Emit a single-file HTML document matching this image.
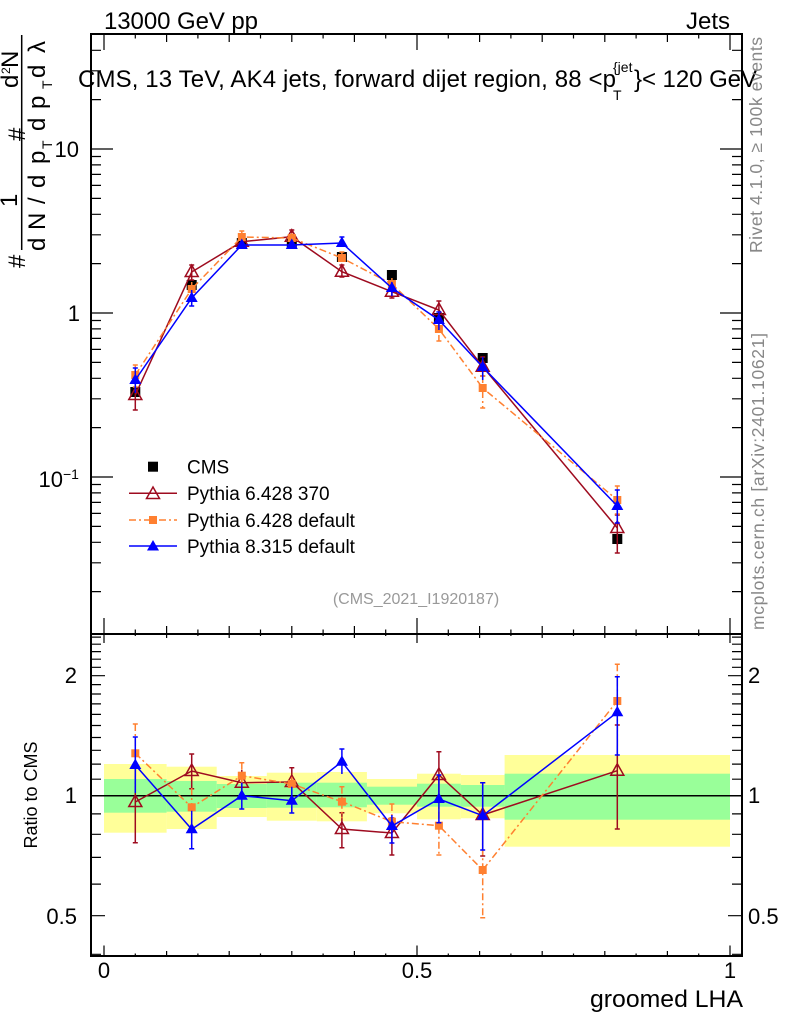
<!DOCTYPE html>
<html>
<head>
<meta charset="utf-8">
<style>
html,body{margin:0;padding:0;background:#fff;}
svg{display:block;}
text{font-family:"Liberation Sans",Arial,sans-serif;}
</style>
</head>
<body>
<svg width="786" height="1024" viewBox="0 0 786 1024" xmlns="http://www.w3.org/2000/svg">
<defs>
  <path id="otri" d="M0,-7 L6.5,4.5 L-6.5,4.5 Z" fill="none" stroke="#9e0b1f" stroke-width="1.5"/>
  <path id="ftri" d="M0,-6.5 L6,4 L-6,4 Z" fill="#0000ff"/>
  <rect id="osq" x="-4" y="-4" width="8" height="8" fill="#ff8030"/>
  <rect id="bsq" x="-5" y="-5" width="10" height="10" fill="#000"/>
</defs>
<rect width="786" height="1024" fill="#fff"/>

<!-- ratio bands -->
<g>
  <rect x="104" y="764" width="62.6" height="68.7" fill="#ffff99"/>
  <rect x="166.6" y="766.7" width="50.1" height="62.3" fill="#ffff99"/>
  <rect x="216.7" y="776" width="50.1" height="41" fill="#ffff99"/>
  <rect x="266.8" y="772.7" width="50" height="48" fill="#ffff99"/>
  <rect x="316.8" y="772" width="50.1" height="49.3" fill="#ffff99"/>
  <rect x="366.9" y="779" width="50.1" height="34.3" fill="#ffff99"/>
  <rect x="417" y="773.7" width="43.8" height="45.6" fill="#ffff99"/>
  <rect x="460.8" y="775" width="43.8" height="43.3" fill="#ffff99"/>
  <rect x="504.6" y="755" width="225.4" height="91.7" fill="#ffff99"/>

  <rect x="104" y="779" width="62.6" height="33.7" fill="#99ff99"/>
  <rect x="166.6" y="781" width="50.1" height="30.7" fill="#99ff99"/>
  <rect x="216.7" y="784" width="50.1" height="24" fill="#99ff99"/>
  <rect x="266.8" y="782.7" width="50" height="25" fill="#99ff99"/>
  <rect x="316.8" y="782.7" width="50.1" height="24.6" fill="#99ff99"/>
  <rect x="366.9" y="786.7" width="50.1" height="18" fill="#99ff99"/>
  <rect x="417" y="783.7" width="43.8" height="23" fill="#99ff99"/>
  <rect x="460.8" y="785" width="43.8" height="21.7" fill="#99ff99"/>
  <rect x="504.6" y="773.7" width="225.4" height="46" fill="#99ff99"/>
</g>
<line x1="91" y1="795.7" x2="742" y2="795.7" stroke="#000" stroke-width="1.5"/>

<!-- frame -->
<rect x="91" y="34" width="651" height="922" fill="none" stroke="#000" stroke-width="2"/>
<line x1="91" y1="634" x2="742" y2="634" stroke="#000" stroke-width="2"/>

<!-- ticks -->
<g stroke="#000" stroke-width="1.2" fill="none">
  <path d="M91 149h22M91 313h22M91 477h22
  M91 99.6h10M91 70.8h10M91 50.3h10
  M91 263.6h10M91 234.8h10M91 214.3h10M91 198.4h10M91 185.4h10M91 174.4h10M91 164.9h10M91 156.5h10
  M91 427.6h10M91 398.8h10M91 378.3h10M91 362.4h10M91 349.4h10M91 338.4h10M91 328.9h10M91 320.5h10
  M91 591.6h10M91 562.8h10M91 542.3h10M91 526.4h10M91 513.4h10M91 502.4h10M91 492.9h10M91 484.5h10"/>
  <path d="M742 149h-22M742 313h-22M742 477h-22
  M742 99.6h-10M742 70.8h-10M742 50.3h-10
  M742 263.6h-10M742 234.8h-10M742 214.3h-10M742 198.4h-10M742 185.4h-10M742 174.4h-10M742 164.9h-10M742 156.5h-10
  M742 427.6h-10M742 398.8h-10M742 378.3h-10M742 362.4h-10M742 349.4h-10M742 338.4h-10M742 328.9h-10M742 320.5h-10
  M742 591.6h-10M742 562.8h-10M742 542.3h-10M742 526.4h-10M742 513.4h-10M742 502.4h-10M742 492.9h-10M742 484.5h-10"/>
  <path d="M91 915.7h14M91 795.7h14M91 675.7h14
  M91 954.3h10M91 884.1h10M91 857.4h10M91 834.3h10M91 813.9h10
  M91 779.2h10M91 764.1h10M91 750.3h10M91 737.5h10M91 725.5h10M91 714.4h10M91 703.9h10M91 694h10M91 684.6h10
  M91 667.3h10M91 659.2h10M91 651.6h10M91 644.2h10M91 637.1h10"/>
  <path d="M742 915.7h-14M742 795.7h-14M742 675.7h-14
  M742 954.3h-10M742 884.1h-10M742 857.4h-10M742 834.3h-10M742 813.9h-10
  M742 779.2h-10M742 764.1h-10M742 750.3h-10M742 737.5h-10M742 725.5h-10M742 714.4h-10M742 703.9h-10M742 694h-10M742 684.6h-10
  M742 667.3h-10M742 659.2h-10M742 651.6h-10M742 644.2h-10M742 637.1h-10"/>
  <path d="M104 34v16M417 34v16M730 34v16
  M166.6 34v8M229.2 34v8M291.8 34v8M354.4 34v8M479.6 34v8M542.2 34v8M604.8 34v8M667.4 34v8
  M135.3 34v4.5M197.9 34v4.5M260.5 34v4.5M323.1 34v4.5M385.7 34v4.5M448.3 34v4.5M510.9 34v4.5M573.5 34v4.5M636.1 34v4.5M698.7 34v4.5"/>
  <path d="M104 634v-16M417 634v-16M730 634v-16
  M166.6 634v-8M229.2 634v-8M291.8 634v-8M354.4 634v-8M479.6 634v-8M542.2 634v-8M604.8 634v-8M667.4 634v-8
  M135.3 634v-4.5M197.9 634v-4.5M260.5 634v-4.5M323.1 634v-4.5M385.7 634v-4.5M448.3 634v-4.5M510.9 634v-4.5M573.5 634v-4.5M636.1 634v-4.5M698.7 634v-4.5"/>
  <path d="M104 634v9M417 634v9M730 634v9
  M166.6 634v4M229.2 634v4M291.8 634v4M354.4 634v4M479.6 634v4M542.2 634v4M604.8 634v4M667.4 634v4
  M135.3 634v2M197.9 634v2M260.5 634v2M323.1 634v2M385.7 634v2M448.3 634v2M510.9 634v2M573.5 634v2M636.1 634v2M698.7 634v2"/>
  <path d="M104 956v-10.5M417 956v-10.5M730 956v-10.5
  M166.6 956v-5M229.2 956v-5M291.8 956v-5M354.4 956v-5M479.6 956v-5M542.2 956v-5M604.8 956v-5M667.4 956v-5
  M135.3 956v-2.5M197.9 956v-2.5M260.5 956v-2.5M323.1 956v-2.5M385.7 956v-2.5M448.3 956v-2.5M510.9 956v-2.5M573.5 956v-2.5M636.1 956v-2.5M698.7 956v-2.5"/>
</g>

<!-- ============ MAIN PANEL DATA ============ -->
<g stroke="#000" stroke-width="1.5">
  <path d="M135.3 388v8M191.7 282v6M241.8 240v6M291.8 240v6M341.9 254v6M391.9 272v6M438.9 315v6M482.7 355v6M617.3 533v12"/>
</g>
<g>
  <use href="#bsq" x="135.3" y="392"/><use href="#bsq" x="191.7" y="285"/><use href="#bsq" x="241.8" y="243"/>
  <use href="#bsq" x="291.8" y="243"/><use href="#bsq" x="341.9" y="257"/><use href="#bsq" x="391.9" y="275"/>
  <use href="#bsq" x="438.9" y="318"/><use href="#bsq" x="482.7" y="358"/><use href="#bsq" x="617.3" y="539"/>
</g>
<g stroke="#9e0b1f" stroke-width="1.5" fill="none">
  <polyline points="135.3,395 191.7,272 241.8,241.7 291.8,236.7 341.9,271.7 391.9,291.7 438.9,310 482.7,366.7 617.3,528"/>
  <path d="M135.3 383v27M191.7 265v15M241.8 237v9M291.8 230v13M341.9 265v12M391.9 285v13M438.9 301v17M482.7 357v19M617.3 515v38
  M132.8 410h5M132.8 383h5M189.2 265h5M189.2 280h5M289.3 230h5M289.3 243h5M339.4 265h5M339.4 277h5M389.4 285h5M389.4 298h5M436.4 301h5M436.4 318h5M480.2 357h5M480.2 376h5M614.8 515h5M614.8 553h5"/>
</g>
<g>
  <use href="#otri" x="135.3" y="395"/><use href="#otri" x="191.7" y="272"/><use href="#otri" x="241.8" y="241.7"/>
  <use href="#otri" x="291.8" y="236.7"/><use href="#otri" x="341.9" y="271.7"/><use href="#otri" x="391.9" y="291.7"/>
  <use href="#otri" x="438.9" y="310"/><use href="#otri" x="482.7" y="366.7"/><use href="#otri" x="617.3" y="528"/>
</g>
<g stroke="#ff8030" stroke-width="1.5" fill="none" stroke-dasharray="7 3 2 3">
  <polyline points="135.3,375 191.7,289 241.8,237 291.8,238 341.9,258 391.9,284 438.9,329 482.7,388 617.3,500"/>
  <path d="M135.3 365v22M191.7 282v15M241.8 231v12M291.8 233v10M341.9 252v10M391.9 278v14M438.9 320v21M482.7 376v32M617.3 486v28"/>
</g>
<g stroke="#ff8030" stroke-width="1.5">
  <path d="M132.8 365h5M132.8 387h5M239.3 231h5M339.4 252h5M436.4 341h5M480.2 408h5M480.2 376h5M614.8 486h5M614.8 514h5"/>
</g>
<g>
  <use href="#osq" x="135.3" y="375"/><use href="#osq" x="191.7" y="289"/><use href="#osq" x="241.8" y="237"/>
  <use href="#osq" x="291.8" y="238"/><use href="#osq" x="341.9" y="258"/><use href="#osq" x="391.9" y="284"/>
  <use href="#osq" x="438.9" y="329"/><use href="#osq" x="482.7" y="388"/><use href="#osq" x="617.3" y="500"/>
</g>
<g stroke="#0000ff" stroke-width="1.5" fill="none">
  <polyline points="135.3,380 191.7,298 241.8,245 291.8,245 341.9,243 391.9,288 438.9,320 482.7,367 617.3,506"/>
  <path d="M135.3 368v25M191.7 290v16M241.8 241v8M291.8 241v8M341.9 237v10M391.9 282v14M438.9 312v18M482.7 357v23M617.3 490v33
  M132.8 368h5M189.2 306h5M339.4 237h5M436.4 312h5M614.8 490h5M614.8 523h5"/>
</g>
<g>
  <use href="#ftri" x="135.3" y="380"/><use href="#ftri" x="191.7" y="298"/><use href="#ftri" x="241.8" y="245"/>
  <use href="#ftri" x="291.8" y="245"/><use href="#ftri" x="341.9" y="243"/><use href="#ftri" x="391.9" y="288"/>
  <use href="#ftri" x="438.9" y="320"/><use href="#ftri" x="482.7" y="367"/><use href="#ftri" x="617.3" y="506"/>
</g>

<!-- ============ RATIO PANEL DATA ============ -->
<g stroke="#9e0b1f" stroke-width="1.5" fill="none">
  <polyline points="135.3,802 191.7,771 241.8,782.7 291.8,782 341.9,829 391.9,833 438.9,775 482.7,815 617.3,770.7"/>
  <path d="M135.3 762v80.7M191.7 754v34.7M241.8 770v26M291.8 767.7v20.3M341.9 812.7v35M391.9 818v37M438.9 751.7v45M482.7 782.7v73.3M617.3 725v104
  M132.8 842.7h5M189.2 754h5M189.2 788.7h5M289.3 767.7h5M339.4 812.7h5M339.4 847.7h5M389.4 818h5M389.4 855h5M436.4 751.7h5M436.4 796.7h5M480.2 782.7h5M480.2 856h5M614.8 725h5M614.8 829h5"/>
</g>
<g>
  <use href="#otri" x="135.3" y="802"/><use href="#otri" x="191.7" y="771"/><use href="#otri" x="241.8" y="782.7"/>
  <use href="#otri" x="291.8" y="782"/><use href="#otri" x="341.9" y="829"/><use href="#otri" x="391.9" y="833"/>
  <use href="#otri" x="438.9" y="775"/><use href="#otri" x="482.7" y="815"/><use href="#otri" x="617.3" y="770.7"/>
</g>
<g stroke="#ff8030" stroke-width="1.5" fill="none" stroke-dasharray="7 3 2 3">
  <polyline points="135.3,753.3 191.7,807.3 241.8,775.7 291.8,784 341.9,801.7 391.9,821.7 438.9,825.7 482.7,870 617.3,701"/>
  <path d="M135.3 724v62M191.7 788v40M241.8 762.7v24M291.8 776.7v15M341.9 786.7v31.6M391.9 804v31M438.9 796.7v58.3M482.7 833.3v84.4M617.3 664.3v82.4"/>
</g>
<g stroke="#ff8030" stroke-width="1.5">
  <path d="M132.8 724h5M239.3 762.7h5M339.4 786.7h5M389.4 804h5M436.4 855h5M480.2 917.7h5M614.8 664.3h5"/>
</g>
<g>
  <use href="#osq" x="135.3" y="753.3"/><use href="#osq" x="191.7" y="807.3"/><use href="#osq" x="241.8" y="775.7"/>
  <use href="#osq" x="291.8" y="784"/><use href="#osq" x="341.9" y="801.7"/><use href="#osq" x="391.9" y="821.7"/>
  <use href="#osq" x="438.9" y="825.7"/><use href="#osq" x="482.7" y="870"/><use href="#osq" x="617.3" y="701"/>
</g>
<g stroke="#0000ff" stroke-width="1.5" fill="none">
  <polyline points="135.3,765 191.7,829.3 241.8,795.7 291.8,800.7 341.9,761.7 391.9,826 438.9,799 482.7,815.7 617.3,712.3"/>
  <path d="M135.3 737v56M191.7 810.7v38M241.8 782.6v26.4M291.8 786.7v26.3M341.9 749v25M391.9 815v28M438.9 775v47.7M482.7 782.7v67.3M617.3 676.7v78.3
  M132.8 737h5M189.2 848.7h5M239.3 809h5M289.3 813h5M339.4 749h5M389.4 843h5M436.4 775h5M436.4 822.7h5M480.2 782.7h5M480.2 850h5M614.8 676.7h5M614.8 755h5"/>
</g>
<g>
  <use href="#ftri" x="135.3" y="765"/><use href="#ftri" x="191.7" y="829.3"/><use href="#ftri" x="241.8" y="795.7"/>
  <use href="#ftri" x="291.8" y="800.7"/><use href="#ftri" x="341.9" y="761.7"/><use href="#ftri" x="391.9" y="826"/>
  <use href="#ftri" x="438.9" y="799"/><use href="#ftri" x="482.7" y="815.7"/><use href="#ftri" x="617.3" y="712.3"/>
</g>

<!-- ============ LEGEND ============ -->
<use href="#bsq" x="153" y="466.7"/>
<line x1="129" y1="493.3" x2="177" y2="493.3" stroke="#9e0b1f" stroke-width="1.5"/>
<use href="#otri" x="153" y="494"/>
<line x1="129" y1="520" x2="177" y2="520" stroke="#ff8030" stroke-width="1.5" stroke-dasharray="7 3 2 3"/>
<use href="#osq" x="153" y="520"/>
<line x1="129" y1="546" x2="177" y2="546" stroke="#0000ff" stroke-width="1.5"/>
<use href="#ftri" x="153" y="546.5"/>
<g font-size="19" fill="#000">
  <text x="187" y="473.5">CMS</text>
  <text x="187" y="500">Pythia 6.428 370</text>
  <text x="187" y="527">Pythia 6.428 default</text>
  <text x="187" y="553">Pythia 8.315 default</text>
</g>

<!-- ============ TEXTS ============ -->
<text x="104" y="29" font-size="24" textLength="154" lengthAdjust="spacing">13000 GeV pp</text>
<text x="730" y="29" font-size="24" text-anchor="end">Jets</text>

<text x="78" y="87" font-size="24" textLength="538" lengthAdjust="spacing">CMS, 13 TeV, AK4 jets, forward dijet region, 88 &lt;p</text>
<text x="613" y="72" font-size="14">{jet</text>
<text x="613" y="100" font-size="14">T</text>
<text x="634" y="87" font-size="24" textLength="123" lengthAdjust="spacing">}&lt; 120 GeV</text>

<text x="416" y="604" font-size="16" fill="#999" text-anchor="middle">(CMS_2021_I1920187)</text>

<!-- y axis label (rotated) -->
<g font-size="24" fill="#000">
  <text transform="translate(25,268) rotate(-90)">#</text>
  <text transform="translate(17,207) rotate(-90)">1</text>
  <text transform="translate(45,251) rotate(-90)">d</text>
  <text transform="translate(45,230) rotate(-90)">N</text>
  <text transform="translate(45,204) rotate(-90)">/</text>
  <text transform="translate(45,188) rotate(-90)">d</text>
  <text transform="translate(45,164) rotate(-90)">p</text>
  <text transform="translate(52,149) rotate(-90)" font-size="14">T</text>
  <text transform="translate(25,141) rotate(-90)">#</text>
  <text transform="translate(18,88) rotate(-90)">d</text>
  <text transform="translate(10,74) rotate(-90)" font-size="12">2</text>
  <text transform="translate(18,68) rotate(-90)">N</text>
  <text transform="translate(45,131) rotate(-90)">d</text>
  <text transform="translate(45,109) rotate(-90)">p</text>
  <text transform="translate(52,89) rotate(-90)" font-size="14">T</text>
  <text transform="translate(45,78) rotate(-90)">d</text>
  <text transform="translate(45,53) rotate(-90)">λ</text>
</g>
<line x1="21.7" y1="35" x2="21.7" y2="250" stroke="#000" stroke-width="1.5"/>

<!-- main y tick labels -->
<g font-size="22" fill="#000" text-anchor="end">
  <text x="79" y="157">10</text>
  <text x="80" y="321">1</text>
  <text x="63" y="487">10</text>
</g>
<text x="63" y="479" font-size="14">−1</text>

<!-- ratio tick labels -->
<g font-size="22" fill="#000">
  <text x="77" y="683" text-anchor="end">2</text>
  <text x="77" y="803" text-anchor="end">1</text>
  <text x="77" y="924" text-anchor="end">0.5</text>
  <text x="748" y="683">2</text>
  <text x="748" y="803">1</text>
  <text x="748" y="924">0.5</text>
</g>

<!-- x tick labels -->
<g font-size="22" fill="#000" text-anchor="middle">
  <text x="104" y="978">0</text>
  <text x="417" y="978">0.5</text>
  <text x="730" y="978">1</text>
</g>
<text x="590" y="1007" font-size="24" textLength="153" lengthAdjust="spacingAndGlyphs">groomed LHA</text>

<text transform="translate(37,795) rotate(-90)" font-size="18" text-anchor="middle">Ratio to CMS</text>

<!-- right side vertical texts -->
<text transform="translate(762,253) rotate(-90)" font-size="17.5" fill="#888" textLength="216" lengthAdjust="spacing">Rivet 4.1.0, ≥ 100k events</text>
<text transform="translate(764,630) rotate(-90)" font-size="17.5" fill="#888" textLength="297" lengthAdjust="spacing">mcplots.cern.ch [arXiv:2401.10621]</text>
</svg>
</body>
</html>
